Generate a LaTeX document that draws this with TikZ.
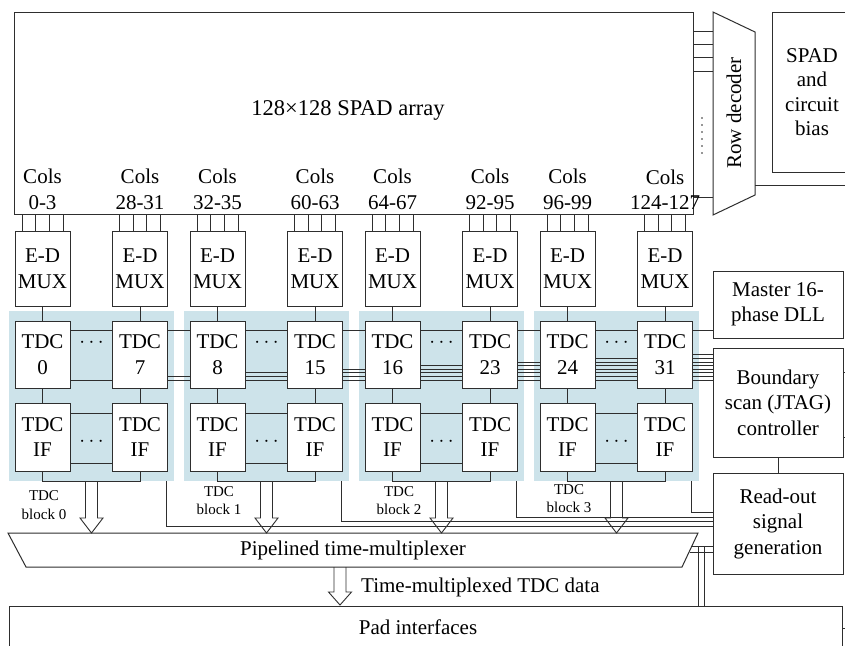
\documentclass[tikz,border=0pt]{standalone}
\usepackage{fontspec}
\setmainfont{Liberation Serif}
\definecolor{linec}{HTML}{2E2E2E}
\definecolor{blueb}{HTML}{CDE3EA}
\begin{document}
\begin{tikzpicture}[x=1pt,y=-1pt,
  ln/.style={draw=linec, line width=0.9pt},
  box/.style={draw=linec, line width=1pt, fill=white, align=center, inner sep=0pt, font=\fontsize{21}{25.5}\selectfont},
  blk/.style={fill=blueb, draw=none, inner sep=0pt},
  lbl/.style={align=center, inner sep=0pt, font=\fontsize{21}{25.5}\selectfont},
  small/.style={align=center, inner sep=0pt, font=\fontsize{15}{18.5}\selectfont}]
\useasboundingbox (0,0) rectangle (845,645);
\fill[white] (0,0) rectangle (845,645);

% blue blocks
\foreach \k in {0,...,3}{
  \node[blk, minimum width=165, minimum height=170] (blk\k) at ({91.5+175*\k},396) {};
}

% SPAD array
\node[box, minimum width=679, minimum height=202] (arr) at (353.5,113) {};
\node[lbl, font=\fontsize{22.5}{27}\selectfont] (arrl) at (348,110) {128×128 SPAD array};

% row decoder
\coordinate (rdtl) at (713,12);
\coordinate (rdtr) at (755,32);
\coordinate (rdbr) at (755,195);
\coordinate (rdbl) at (713,215);
\draw[ln, line width=1pt] (rdtl) -- (rdtr) -- (rdbr) -- (rdbl) -- cycle;
\node[lbl, rotate=90] (rdt) at (734,113) {Row decoder};
\foreach \yy in {31,44,57,71,197}{
  \coordinate (ry) at (0,\yy);
  \draw[ln] (arr.east |- ry) -- (rdtl |- ry);
}
\foreach \yy in {118,125,132,139,146,153}{
  \fill[linec] (702,\yy) circle (0.8);
}
\coordinate (redge) at (850,185);
\draw[ln] (rdbr |- redge) -- (redge);

% SPAD bias
\node[box, minimum width=80, minimum height=160, font=\fontsize{21}{24.5}\selectfont] (bias) at (812,92) {SPAD\\and\\circuit\\bias};

% columns, muxes, TDCs
\foreach \k/\colA/\colB in {0/0-3/28-31, 1/32-35/60-63, 2/64-67/92-95, 3/96-99/124-127}{
  \pgfmathsetmacro\xl{42.5+175*\k}
  \pgfmathsetmacro\xr{140+175*\k}
  \pgfmathtruncatemacro\na{8*\k}
  \pgfmathtruncatemacro\nb{8*\k+7}
  \node[lbl] (colL\k) at (\xl,189.5) {Cols\\\colA};
  \node[lbl] (colR\k) at (\xr,189.5) {Cols\\\colB};
  \node[box, minimum width=55, minimum height=75] (muxL\k) at (\xl,268.5) {E-D\\MUX};
  \node[box, minimum width=55, minimum height=75] (muxR\k) at (\xr,268.5) {E-D\\MUX};
  \node[box, minimum width=55, minimum height=67] (tdcL\k) at (\xl,354.5) {TDC\\\na};
  \node[box, minimum width=55, minimum height=67] (tdcR\k) at (\xr,354.5) {TDC\\\nb};
  \node[box, minimum width=55, minimum height=68] (ifL\k) at (\xl,437) {TDC\\IF};
  \node[box, minimum width=55, minimum height=68] (ifR\k) at (\xr,437) {TDC\\IF};
  \foreach \d in {-20.5,-6.8,6.8,20.5}{
    \draw[ln] ([xshift=\d pt]muxL\k.north) -- ([xshift=\d pt]muxL\k.north |- arr.south);
    \draw[ln] ([xshift=\d pt]muxR\k.north) -- ([xshift=\d pt]muxR\k.north |- arr.south);
  }
  \draw[ln] (muxL\k.south) -- (tdcL\k.north);
  \draw[ln] (muxR\k.south) -- (tdcR\k.north);
  \draw[ln] (tdcL\k.south) -- (ifL\k.north);
  \draw[ln] (tdcR\k.south) -- (ifR\k.north);
  \draw[ln] ([yshift=24.5pt]tdcL\k.east) -- ([yshift=24.5pt]tdcR\k.west);
  \pgfmathtruncatemacro\nn{2*\k+1}
  \foreach \i in {1,...,\nn}{
    \pgfmathsetmacro\ys{-25.5+3.6*(\i-1)}
    \draw[ln, line width=0.8pt] ([yshift=\ys pt]tdcL\k.east) -- ([yshift=\ys pt]tdcR\k.west);
  }
  \node[lbl] (dotT\k) at ({91.5+175*\k},343) {$\cdots$};
  \draw[ln] ([yshift=24pt]ifL\k.east) -- ([yshift=24pt]ifR\k.west);
  \draw[ln] ([yshift=-26pt]ifL\k.east) -- ([yshift=-26pt]ifR\k.west);
  \node[lbl] (dotI\k) at ({91.5+175*\k},442) {$\cdots$};
  \draw[ln] (ifL\k.south) -- (ifL\k.south |- blk\k.south) -- (ifR\k.south |- blk\k.south) -- (ifR\k.south);
  \pgfmathsetmacro\cc{91.5+175*\k}
  \draw[ln, line join=miter] ({\cc-6},481) -- ({\cc-6},518) -- ({\cc-11.5},518) -- (\cc,533) -- ({\cc+11.5},518) -- ({\cc+6},518) -- ({\cc+6},481);
}

% bundles between blocks
\foreach \k/\kk in {0/1,1/2,2/3}{
  \draw[ln] ([yshift=24.5pt]tdcR\k.east) -- ([yshift=24.5pt]tdcL\kk.west);
  \pgfmathtruncatemacro\nn{2*\k+2}
  \foreach \i in {1,...,\nn}{
    \pgfmathsetmacro\ys{-25.5+3.6*(\i-1)}
    \draw[ln, line width=0.8pt] ([yshift=\ys pt]tdcR\k.east) -- ([yshift=\ys pt]tdcL\kk.west);
  }
}

% right-side boxes
\node[box, minimum width=130, minimum height=67] (dll) at (778,304.5) {Master 16-\\phase DLL};
\node[box, minimum width=130, minimum height=109] (bs) at (778,402.5) {Boundary\\scan (JTAG)\\controller};
\node[box, minimum width=130, minimum height=101] (ro) at (778,523.5) {Read-out\\signal\\generation};
\draw[ln] ([yshift=24.5pt]tdcR3.east) -- ([yshift=24.5pt]tdcR3.east -| dll.west);
\foreach \i in {1,...,8}{
  \pgfmathsetmacro\ys{-25.5+3.6*(\i-1)}
  \draw[ln, line width=0.8pt] ([yshift=\ys pt]tdcR3.east) -- ([yshift=\ys pt]tdcR3.east -| bs.west);
}
\draw[ln] (bs.south) -- (ro.north);
\coordinate (s1) at (850,372);
\coordinate (s2) at (850,437);
\draw[ln] (s1 -| bs.east) -- (s1);
\draw[ln] (s2 -| bs.east) -- (s2);

% block labels
\node[small] (bl0) at (44,505) {TDC\\block 0};
\node[small] (bl1) at (219,500.5) {TDC\\block 1};
\node[small] (bl2) at (399,500.5) {TDC\\block 2};
\node[small] (bl3) at (569,498.5) {TDC\\block 3};

% read-out lines to blocks
\foreach \k/\yy in {0/526,1/521.5,2/517,3/512}{
  \coordinate (rb\k) at ({166+175*\k},\yy);
  \draw[ln] (blk\k.south -| rb\k) -- (rb\k) -- (rb\k -| ro.west);
}

% pipelined multiplexer
\coordinate (mtl) at (8,533);
\coordinate (mtr) at (698,533);
\coordinate (mbr) at (682,567);
\coordinate (mbl) at (26,567);
\draw[ln, line width=1pt] (mtl) -- (mtr) -- (mbr) -- (mbl) -- cycle;
\node[lbl] (mtext) at (353,550) {Pipelined time-multiplexer};

% pad interfaces
\node[box, minimum width=833, minimum height=60, anchor=north] (pad) at (425.5,606) {};
\node[lbl] (padt) at (418,627) {Pad interfaces};
\coordinate (s3) at (850,628);
\draw[ln] (s3 -| pad.east) -- (s3);

% read-out to multiplexer / pads
\coordinate (m1) at (691.9,546);
\coordinate (m2) at (689.5,552);
\draw[ln] (m1) -- (m1 -| ro.west);
\draw[ln] (m2) -- (m2 -| ro.west);
\coordinate (v1) at (698.5,546);
\coordinate (v2) at (704.5,546);
\draw[ln] (v1) -- (v1 |- pad.north);
\draw[ln] (v2) -- (v2 |- pad.north);

% time-multiplexed data arrow
\draw[ln, line join=miter] (334,567) -- (334,592) -- (328.5,592) -- (340,605) -- (351.5,592) -- (346,592) -- (346,567);
\node[lbl, anchor=west] (tmd) at (361,587) {Time-multiplexed TDC data};
\end{tikzpicture}
\end{document}
